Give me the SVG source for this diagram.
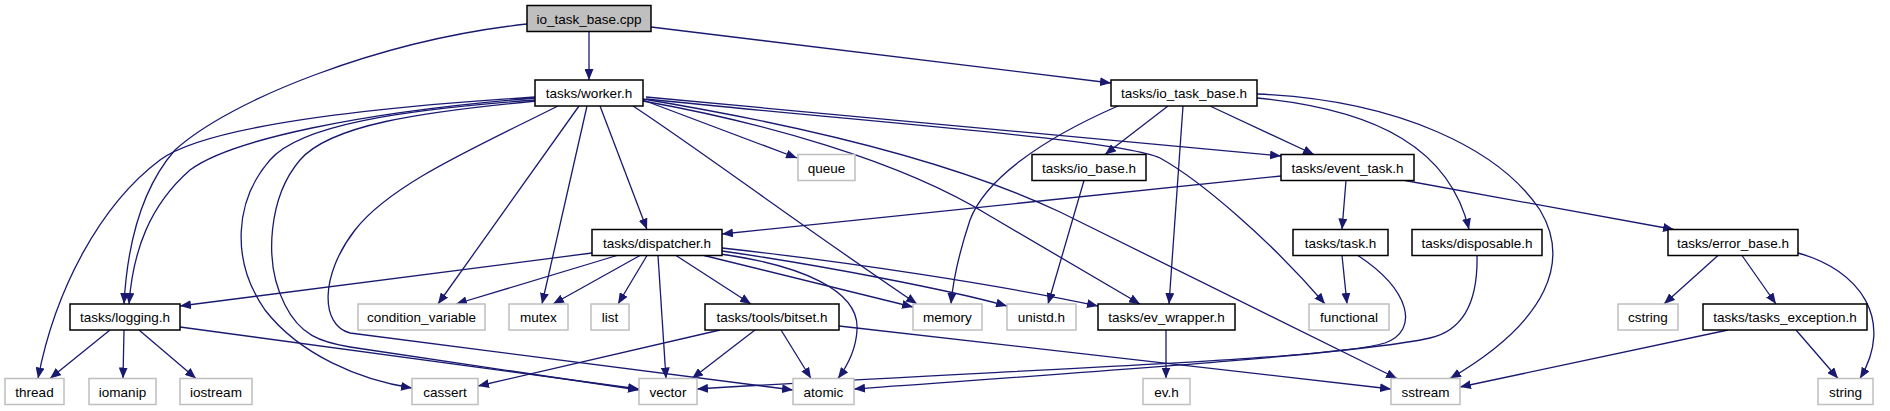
<svg xmlns="http://www.w3.org/2000/svg" width="1890" height="411" viewBox="0 0 1890 411">
<defs>
<marker id="arr" markerWidth="11" markerHeight="9" refX="11" refY="4.5" orient="auto" markerUnits="userSpaceOnUse"><path d="M0,0 L11,4.5 L0,9 z" fill="#191970"/></marker>
<style>
.e{fill:none;stroke:#191970;stroke-width:1.3;marker-end:url(#arr)}
.d{fill:#ffffff;stroke:#000000;stroke-width:1.5}
.s{fill:#ffffff;stroke:#bfbfbf;stroke-width:1.5}
.r{fill:#bfbfbf;stroke:#000000;stroke-width:1.5}
text{font-family:"Liberation Sans",Arial,Helvetica,sans-serif;font-size:13.5px;fill:#000;text-anchor:middle}
</style>
</defs>
<rect width="1890" height="411" fill="#ffffff"/>
<g id="edges">
<path class="e" d="M589,32 L589,80"/>
<path class="e" d="M527,24 C380,40 230,100 175,150 C140,190 127,250 124,304"/>
<path class="e" d="M651,27 L1111,83"/>
<path class="e" d="M535,97 C330,110 200,130 160,160 C100,205 55,290 38,378.5"/>
<path class="e" d="M535,98 C360,112 230,140 190,170 C150,205 133,250 129,304"/>
<path class="e" d="M535,100 C400,110 300,125 270,160 C235,200 230,260 265,310 C300,355 360,380 412,388"/>
<path class="e" d="M536,101 C420,112 330,125 300,160 C270,195 262,260 285,305 C300,335 320,342 350,347 L639,390"/>
<path class="e" d="M558,106 C470,150 390,185 355,230 C320,275 320,325 350,333 L793,390"/>
<path class="e" d="M579,106 L438,304"/>
<path class="e" d="M587,106 L542,304"/>
<path class="e" d="M600,106 L647,229.5"/>
<path class="e" d="M633,106 C700,150 800,225 917,304"/>
<path class="e" d="M643,100 L797,158"/>
<path class="e" d="M643,101 C760,122 900,160 990,216 L1140,304"/>
<path class="e" d="M646,97 L1281,156"/>
<path class="e" d="M646,99 C900,125 1120,140 1160,158 C1200,180 1270,240 1325,304"/>
<path class="e" d="M643,99 C800,125 950,160 1060,212 L1397,378.5"/>
<path class="e" d="M1118,106 C1040,140 985,180 970,220 C960,250 953,280 951,304"/>
<path class="e" d="M1168,106 L1105,154.5"/>
<path class="e" d="M1183,106 L1169,304"/>
<path class="e" d="M1210,106 L1314,154.5"/>
<path class="e" d="M1257,98 C1380,110 1450,150 1469,229.5"/>
<path class="e" d="M1257,94 C1400,100 1500,150 1540,210 C1570,260 1550,320 1450,378.5"/>
<path class="e" d="M1084,180.5 L1048,304"/>
<path class="e" d="M1281,176 L722,234"/>
<path class="e" d="M1346,180.5 L1342,229.5"/>
<path class="e" d="M1405,180.5 L1674,229.5"/>
<path class="e" d="M592,253 L180,306"/>
<path class="e" d="M617,255.5 L456,304"/>
<path class="e" d="M640,255.5 L553,304"/>
<path class="e" d="M647,255.5 L618,304"/>
<path class="e" d="M658,255.5 L666,378.5"/>
<path class="e" d="M676,255.5 L751,304"/>
<path class="e" d="M704,255.5 L913,307"/>
<path class="e" d="M720,254 C800,265 860,290 857,330 C856,350 848,365 838,378.5"/>
<path class="e" d="M722,251 C820,265 950,290 1007,306"/>
<path class="e" d="M722,248 C850,262 1000,285 1098,306"/>
<path class="e" d="M110,330 L50,378.5"/>
<path class="e" d="M124,330 L123,378.5"/>
<path class="e" d="M139,330 L196,378.5"/>
<path class="e" d="M180,327 L639,389"/>
<path class="e" d="M720,330 L478,386"/>
<path class="e" d="M755,330 L692,378.5"/>
<path class="e" d="M781,330 L811,378.5"/>
<path class="e" d="M839,326 L1391,389"/>
<path class="e" d="M1166,330 L1166,378.5"/>
<path class="e" d="M1342,255.5 L1347,304"/>
<path class="e" d="M1358,255.5 C1410,290 1420,330 1385,343 C1330,360 1000,370 697,389"/>
<path class="e" d="M1477,255.5 C1478,300 1465,330 1430,338 C1350,356 1000,378 854,389"/>
<path class="e" d="M1718,255.5 L1664,304"/>
<path class="e" d="M1742,255.5 L1776,304"/>
<path class="e" d="M1798,253 C1860,270 1895,320 1860,378.5"/>
<path class="e" d="M1796,330 L1838,378.5"/>
<path class="e" d="M1728,330 L1460,387"/>
</g>
<g id="n_cpp"><rect class="r" x="527" y="5.5" width="124" height="26"/><text x="589" y="23.5">io_task_base.cpp</text></g>
<g id="n_worker"><rect class="d" x="535" y="80" width="108" height="26"/><text x="589" y="98">tasks/worker.h</text></g>
<g id="n_io_task_base"><rect class="d" x="1111" y="80" width="146" height="26"/><text x="1184" y="98">tasks/io_task_base.h</text></g>
<g id="n_queue"><rect class="s" x="798" y="154.5" width="57" height="26"/><text x="826.5" y="172.5">queue</text></g>
<g id="n_io_base"><rect class="d" x="1032" y="154.5" width="114" height="26"/><text x="1089" y="172.5">tasks/io_base.h</text></g>
<g id="n_event_task"><rect class="d" x="1281" y="154.5" width="133" height="26"/><text x="1347.5" y="172.5">tasks/event_task.h</text></g>
<g id="n_dispatcher"><rect class="d" x="592" y="229.5" width="130" height="26"/><text x="657" y="247.5">tasks/dispatcher.h</text></g>
<g id="n_task"><rect class="d" x="1293" y="229.5" width="95" height="26"/><text x="1340.5" y="247.5">tasks/task.h</text></g>
<g id="n_disposable"><rect class="d" x="1412" y="229.5" width="130" height="26"/><text x="1477" y="247.5">tasks/disposable.h</text></g>
<g id="n_error_base"><rect class="d" x="1668" y="229.5" width="130" height="26"/><text x="1733" y="247.5">tasks/error_base.h</text></g>
<g id="n_logging"><rect class="d" x="70" y="304" width="110" height="26"/><text x="125" y="322">tasks/logging.h</text></g>
<g id="n_condition_variable"><rect class="s" x="358" y="304" width="127" height="26"/><text x="421.5" y="322">condition_variable</text></g>
<g id="n_mutex"><rect class="s" x="509" y="304" width="59" height="26"/><text x="538.5" y="322">mutex</text></g>
<g id="n_list"><rect class="s" x="591" y="304" width="38" height="26"/><text x="610" y="322">list</text></g>
<g id="n_bitset"><rect class="d" x="705" y="304" width="134" height="26"/><text x="772" y="322">tasks/tools/bitset.h</text></g>
<g id="n_memory"><rect class="s" x="913" y="304" width="69" height="26"/><text x="947.5" y="322">memory</text></g>
<g id="n_unistd"><rect class="s" x="1007" y="304" width="69" height="26"/><text x="1041.5" y="322">unistd.h</text></g>
<g id="n_ev_wrapper"><rect class="d" x="1098" y="304" width="137" height="26"/><text x="1166.5" y="322">tasks/ev_wrapper.h</text></g>
<g id="n_functional"><rect class="s" x="1309" y="304" width="80" height="26"/><text x="1349" y="322">functional</text></g>
<g id="n_cstring"><rect class="s" x="1618" y="304" width="60" height="26"/><text x="1648" y="322">cstring</text></g>
<g id="n_tasks_exception"><rect class="d" x="1703" y="304" width="164" height="26"/><text x="1785" y="322">tasks/tasks_exception.h</text></g>
<g id="n_thread"><rect class="s" x="5" y="378.5" width="59" height="26"/><text x="34.5" y="396.5">thread</text></g>
<g id="n_iomanip"><rect class="s" x="89" y="378.5" width="67" height="26"/><text x="122.5" y="396.5">iomanip</text></g>
<g id="n_iostream"><rect class="s" x="180" y="378.5" width="72" height="26"/><text x="216" y="396.5">iostream</text></g>
<g id="n_cassert"><rect class="s" x="412" y="378.5" width="66" height="26"/><text x="445" y="396.5">cassert</text></g>
<g id="n_vector"><rect class="s" x="639" y="378.5" width="58" height="26"/><text x="668" y="396.5">vector</text></g>
<g id="n_atomic"><rect class="s" x="793" y="378.5" width="61" height="26"/><text x="823.5" y="396.5">atomic</text></g>
<g id="n_evh"><rect class="s" x="1143" y="378.5" width="47" height="26"/><text x="1166.5" y="396.5">ev.h</text></g>
<g id="n_sstream"><rect class="s" x="1391" y="378.5" width="69" height="26"/><text x="1425.5" y="396.5">sstream</text></g>
<g id="n_string"><rect class="s" x="1818" y="378.5" width="55" height="26"/><text x="1845.5" y="396.5">string</text></g>
</svg>
